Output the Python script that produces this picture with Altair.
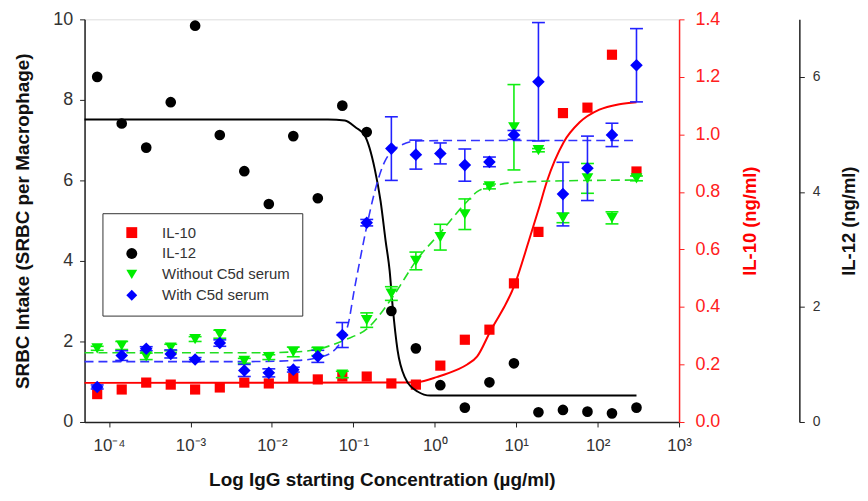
import altair as alt
import pandas as pd

# ---------------- data ----------------
conc = [7.15e-5, 1.43e-4, 2.86e-4, 5.72e-4, 1.14e-3, 2.29e-3, 4.58e-3, 9.16e-3,
        0.0183, 0.0366, 0.0732, 0.146, 0.293, 0.586, 1.17, 2.34, 4.69, 9.38,
        18.75, 37.5, 75, 150, 300]

il10 = [0.097, 0.113, 0.137, 0.130, 0.113, 0.120, 0.137, 0.134, 0.154, 0.148,
        0.158, 0.158, 0.134, 0.130, 0.196, 0.286, 0.321, 0.482, 0.661, 1.074,
        1.093, 1.277, 0.871]

il12 = [6.00, 5.19, 4.77, 5.56, 6.89, 4.99, 4.36, 3.79, 4.97, 3.89, 5.50, 5.04,
        1.93, 1.28, 0.64, 0.25, 0.69, 1.02, 0.17, 0.21, 0.18, 0.15, 0.25]

without_c5d = [1.83, 1.90, 1.63, 1.85, 2.06, 2.18, 1.52, 1.61, 1.74, 1.75, 1.18,
               2.53, 3.19, 4.00, 4.59, 5.16, 5.85, 7.32, 6.75, 5.07, 6.05, 5.07, 6.05]
without_err = [0.05, 0.10, 0.08, 0.08, 0.06, 0.10, 0.06, 0.06, 0.12, 0.10, 0.08,
               0.18, 0.17, 0.22, 0.32, 0.38, 0.06, 1.06, 0.04, 0.12, 0.37, 0.15, 0.06]

with_c5d = [0.87, 1.65, 1.82, 1.69, 1.55, 1.96, 1.28, 1.22, 1.30, 1.63, 2.16,
            4.95, 6.79, 6.64, 6.67, 6.38, 6.46, 7.13, 8.45, 5.66, 6.30, 7.13, 8.86]
with_err = [0.05, 0.12, 0.05, 0.10, 0.05, 0.08, 0.15, 0.10, 0.06, 0.15, 0.31,
            0.08, 0.79, 0.36, 0.26, 0.40, 0.12, 0.11, 1.47, 0.79, 0.80, 0.29, 0.91]

# fitted curves
il10_fit_x = [5e-5, 0.199, 0.349, 0.613, 1.08, 1.89, 2.50, 3.32, 4.78, 9.66, 14.3,
              19.0, 23.8, 38.3, 60.1, 105, 185, 300]
il10_fit_y = [0.136, 0.137, 0.137, 0.139, 0.157, 0.182, 0.200, 0.228, 0.314, 0.480,
              0.630, 0.743, 0.836, 0.973, 1.042, 1.086, 1.105, 1.112]

il12_fit_x = [5e-5, 0.0488, 0.0787, 0.107, 0.138, 0.183, 0.216, 0.249, 0.279, 0.303,
              0.349, 0.425, 0.613, 0.883, 300]
il12_fit_y = [5.26, 5.26, 5.24, 5.12, 4.98, 4.40, 3.84, 3.15, 2.63, 2.03, 1.25,
              0.79, 0.53, 0.46, 0.46]

without_fit_x = [5e-5, 0.00681, 0.01874, 0.0368, 0.0787, 0.150, 0.303, 0.613, 1.17,
                 2.30, 3.32, 4.78, 14.7, 300]
without_fit_y = [1.72, 1.72, 1.74, 1.81, 2.04, 2.33, 3.10, 4.05, 4.70, 5.40, 5.72,
                 5.85, 5.97, 6.01]

with_fit_x = [5e-5, 0.00513, 0.0210, 0.0368, 0.0561, 0.0703, 0.0880, 0.101, 0.120,
              0.142, 0.183, 0.242, 0.380, 0.613, 1.43, 300]
with_fit_y = [1.50, 1.50, 1.53, 1.60, 1.75, 2.00, 2.50, 3.20, 4.00, 4.74, 5.72,
              6.46, 6.87, 6.98, 6.99, 6.99]

series_names = ["IL-10", "IL-12", "Without C5d serum", "With C5d serum"]
series_colors = ["#ff0000", "#000000", "#00ee00", "#0000ff"]
series_shapes = ["square", "circle", "triangle-down", "diamond"]
x_ticks = [1e-4, 1e-3, 1e-2, 1e-1, 1, 10, 100, 1000]

FONT = "Liberation Sans, Arial, sans-serif"

# ---------------- tables ----------------
pts10 = pd.DataFrame({"conc": conc, "v": il10, "series": "IL-10"})
pts12 = pd.DataFrame({"conc": conc, "v": il12, "series": "IL-12"})
ptsWo = pd.DataFrame({"conc": conc, "v": without_c5d, "series": "Without C5d serum",
                      "lo": [a - b for a, b in zip(without_c5d, without_err)],
                      "hi": [a + b for a, b in zip(without_c5d, without_err)]})
ptsW = pd.DataFrame({"conc": conc, "v": with_c5d, "series": "With C5d serum",
                     "lo": [a - b for a, b in zip(with_c5d, with_err)],
                     "hi": [a + b for a, b in zip(with_c5d, with_err)]})
fit10 = pd.DataFrame({"conc": il10_fit_x, "v": il10_fit_y})
fit12 = pd.DataFrame({"conc": il12_fit_x, "v": il12_fit_y})
fitWo = pd.DataFrame({"conc": without_fit_x, "v": without_fit_y})
fitW = pd.DataFrame({"conc": with_fit_x, "v": with_fit_y})

# ---------------- scales / axes ----------------
xs = alt.Scale(type="log", domain=[5e-5, 1000], nice=False)
x_axis = alt.Axis(
    values=x_ticks,
    labelExpr="['10\u207b\u2074','10\u207b\u00b3','10\u207b\u00b2','10\u207b\u00b9','10\u2070','10\u00b9','10\u00b2','10\u00b3'][round(log(datum.value)/LN10)+4]",
    title="Log IgG starting Concentration (\u00b5g/ml)",
    grid=False, tickSize=5, tickColor="#222", domainColor="#222", domainWidth=1.5,
    labelFontSize=17, labelColor="#333", labelPadding=11, labelFont=FONT,
    titleFont=FONT, titleFontSize=19, titleFontWeight="bold", titleColor="#111",
    titlePadding=17, labelFlush=False, labelOverlap=False,
)
X = alt.X("conc:Q", scale=xs, axis=x_axis)

ys_left = alt.Scale(domain=[0, 10], nice=False, zero=True)
left_axis = alt.Axis(
    orient="left", values=[0, 2, 4, 6, 8, 10], title="SRBC Intake (SRBC per Macrophage)",
    grid=False, tickSize=5, tickColor="#222", domainColor="#222", domainWidth=1.5,
    labelFontSize=18, labelColor="#333", labelPadding=7, labelFont=FONT,
    titleFont=FONT, titleFontSize=19, titleFontWeight="bold", titleColor="#111",
    titlePadding=20,
)

ys_10 = alt.Scale(domain=[0, 1.4], nice=False, zero=True)
axis_10 = alt.Axis(
    orient="right", values=[0, 0.2, 0.4, 0.6, 0.8, 1.0, 1.2, 1.4], format=".1f",
    title="IL-10 (ng/ml)", grid=False, tickSize=5, tickColor="#ff2020",
    domainColor="#ff2020", domainWidth=1.5, labelFontSize=18, labelColor="#ff2020",
    labelPadding=11, labelFont=FONT, titleFont=FONT, titleFontSize=18.5,
    titleFontWeight="bold", titleColor="#ff0000", titlePadding=21, titleAngle=270,
    titleBaseline="top",
)

ys_12 = alt.Scale(domain=[0, 7], nice=False, zero=True)
axis_12 = alt.Axis(
    orient="right", offset=121, values=[0, 2, 4, 6], format="d",
    title="IL-12 (ng/ml)", grid=False, tickSize=5, tickColor="#222",
    domainColor="#222", domainWidth=1.5, labelFontSize=14, labelColor="#333",
    labelPadding=8, labelFont=FONT, titleFont=FONT, titleFontSize=18.5,
    titleFontWeight="bold", titleColor="#111", titlePadding=20, titleAngle=270,
    titleBaseline="top",
)

color_scale = alt.Scale(domain=series_names, range=series_colors)
shape_scale = alt.Scale(domain=series_names, range=series_shapes)
legend = alt.Legend(
    orient="none", legendX=18, legendY=195, title=None, strokeColor="#333",
    fillColor="white", padding=12, labelFontSize=15, labelColor="#333",
    labelFont=FONT, symbolSize=120, rowPadding=5, symbolOffset=10, labelOffset=23,
)
C = alt.Color("series:N", scale=color_scale, legend=legend)
S = alt.Shape("series:N", scale=shape_scale, legend=legend)


def points(df, yscale, yaxis, size):
    return alt.Chart(df).mark_point(filled=True, opacity=1, size=size).encode(
        x=X, y=alt.Y("v:Q", scale=yscale, axis=yaxis), color=C, shape=S)


def curve(df, yscale, yaxis, color, dash=None, width=2):
    kw = dict(color=color, strokeWidth=width, interpolate="monotone")
    if dash:
        kw["strokeDash"] = dash
    return alt.Chart(df).mark_line(**kw).encode(
        x=X, y=alt.Y("v:Q", scale=yscale, axis=yaxis))


def errbars(df, color):
    stem = alt.Chart(df).mark_rule(color=color, strokeWidth=1.6).encode(
        x=X, y=alt.Y("lo:Q", scale=ys_left, axis=left_axis), y2="hi:Q")
    cap_lo = alt.Chart(df).mark_rule(color=color, strokeWidth=1.6, xOffset=-6.5,
                                     x2Offset=6.5).encode(
        x=X, x2="conc:Q", y=alt.Y("lo:Q", scale=ys_left, axis=left_axis))
    cap_hi = alt.Chart(df).mark_rule(color=color, strokeWidth=1.6, xOffset=-6.5,
                                     x2Offset=6.5).encode(
        x=X, x2="conc:Q", y=alt.Y("hi:Q", scale=ys_left, axis=left_axis))
    return [stem, cap_lo, cap_hi]


left_group = alt.layer(
    curve(fitWo, ys_left, left_axis, "#22dd22", dash=[9, 5], width=1.6),
    *errbars(ptsWo, "#11ee11"),
    curve(fitW, ys_left, left_axis, "#3333ff", dash=[9, 5], width=1.6),
    *errbars(ptsW, "#2222ff"),
    points(ptsWo, ys_left, left_axis, 140),
    points(ptsW, ys_left, left_axis, 160),
)

red_group = alt.layer(
    curve(fit10, ys_10, axis_10, "#ff0000", width=2),
    points(pts10, ys_10, axis_10, 105),
)

black_group = alt.layer(
    curve(fit12, ys_12, axis_12, "#000000", width=2),
    points(pts12, ys_12, axis_12, 115),
)

chart = alt.layer(red_group, black_group, left_group).resolve_scale(
    y="independent"
).properties(
    width=598, height=405,
    padding={"left": 77, "top": 10, "right": 182, "bottom": 68},
    autosize=alt.AutoSizeParams(type="none"),
).configure_view(
    stroke="#222", strokeWidth=1.5
).configure(font=FONT)

chart.save("out.html", embed_options={"renderer": "svg", "actions": False})
